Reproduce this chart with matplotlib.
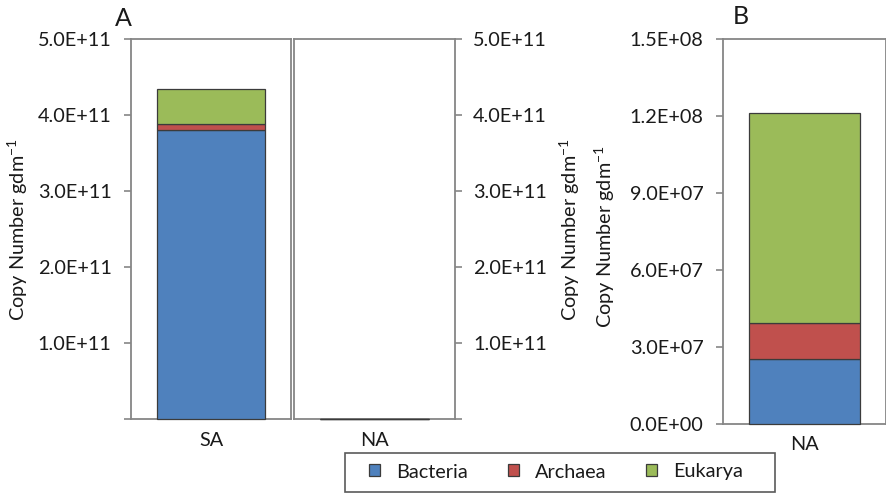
import matplotlib
matplotlib.use("Agg")
import matplotlib.pyplot as plt
from matplotlib.patches import Patch, Rectangle
from matplotlib.ticker import FixedLocator, FuncFormatter

plt.rcParams['font.family'] = ['Lato', 'DejaVu Sans']
plt.rcParams['mathtext.fontset'] = 'custom'
plt.rcParams['mathtext.rm'] = 'Lato'

# ---- data ----
domains = ["Bacteria", "Archaea", "Eukarya"]
colors = ["#4F81BD", "#C0504D", "#9BBB59"]
sa_values = [3.80e11, 0.08e11, 0.46e11]      # SA site
na_values = [2.55e7, 1.37e7, 8.20e7]         # NA site
ticks_a = [0, 1e11, 2e11, 3e11, 4e11, 5e11]
ticks_b = [0, 3e7, 6e7, 9e7, 1.2e8, 1.5e8]
ylabel = r"Copy Number gdm$^{\mathregular{-1}}$"

W, H = 887, 493
fig = plt.figure(figsize=(W / 100, H / 100), dpi=100)

def box(x0, x1, ytop, ybot):
    return [x0 / W, 1 - ybot / H, (x1 - x0) / W, (ybot - ytop) / H]

ax1 = fig.add_axes(box(131, 291, 39, 419))
ax2 = fig.add_axes(box(294, 455, 39, 419))
ax3 = fig.add_axes(box(723, 886, 39, 424))

spine_c = "#868686"
edge_c = "#3b3b3b"
txt_c = "#1a1a1a"
fs = 14.3

def stacked(ax, label, vals):
    bottom = 0
    for v, c, name in zip(vals, colors, domains):
        ax.bar([label], [v], bottom=bottom, width=0.68, color=c,
               edgecolor=edge_c, linewidth=0.9, label=name, zorder=3,
               clip_on=False)
        bottom += v

stacked(ax1, "SA", sa_values)
stacked(ax2, "NA", na_values)
stacked(ax3, "NA", na_values)

def fmt_sci(skip_zero):
    def f(v, pos):
        if skip_zero and v == 0:
            return ""
        return "%.1E" % v
    return FuncFormatter(f)

for ax in (ax1, ax2, ax3):
    ax.set_xlim(-0.5, 0.5)
    for sp in ax.spines.values():
        sp.set_color(spine_c)
        sp.set_linewidth(1.3)
    ax.tick_params(axis='x', length=0, pad=9, labelsize=fs, colors=txt_c)
    ax.tick_params(axis='y', length=5, width=1.2, color=spine_c,
                   labelsize=fs, labelcolor=txt_c, direction='out')

for ax in (ax1, ax2):
    ax.set_ylim(0, 5e11)
    ax.yaxis.set_major_locator(FixedLocator(ticks_a))
    ax.yaxis.set_major_formatter(fmt_sci(True))

ax1.tick_params(axis='y', pad=9)
ax2.yaxis.tick_right()
ax2.tick_params(axis='y', pad=8)

ax3.set_ylim(0, 1.5e8)
ax3.yaxis.set_major_locator(FixedLocator(ticks_b))
ax3.yaxis.set_major_formatter(fmt_sci(False))
ax3.tick_params(axis='y', pad=9)

# y labels
for x, y in ((18, 230), (570, 230), (605, 237)):
    fig.text(x / W, 1 - y / H, ylabel, rotation=90, ha='center', va='center',
             fontsize=fs, color=txt_c)

# panel letters
fig.text(123 / W, 1 - 19 / H, "A", ha='center', va='center', fontsize=18, color=txt_c)
fig.text(741 / W, 1 - 16 / H, "B", ha='center', va='center', fontsize=18, color=txt_c)

# legend
fig.patches.append(Rectangle((345 / W, 1 - 492 / H), 430 / W, 39 / H,
                             transform=fig.transFigure, fill=False,
                             edgecolor="#5a5a5a", linewidth=1.2))
handles = [Patch(facecolor=c, edgecolor=edge_c, linewidth=0.9, label=n)
           for c, n in zip(colors, domains)]
fig.legend(handles=handles, loc='center', bbox_to_anchor=(556 / W, 1 - 472 / H),
           ncol=3, frameon=False, fontsize=fs, handlelength=0.55, handleheight=0.55,
           handletextpad=0.8, columnspacing=2.0, labelcolor=txt_c)

fig.savefig("out.png", dpi=100)
